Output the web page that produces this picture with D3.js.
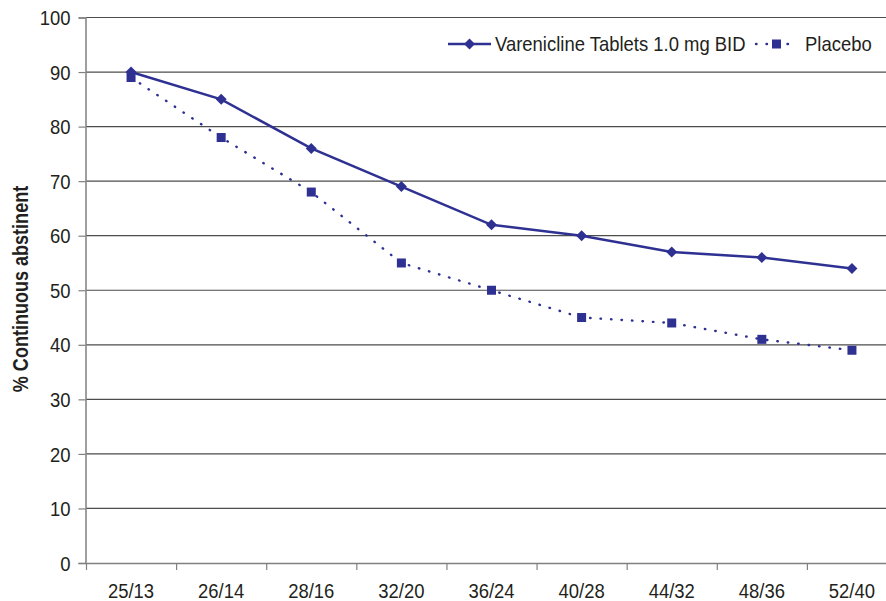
<!DOCTYPE html>
<html>
<head>
<meta charset="utf-8">
<script src="https://cdn.jsdelivr.net/npm/d3@7"></script>
<style>
  body { margin: 0; background: #fff; }
  svg text { font-family: "Liberation Sans", Arial, sans-serif; fill: #231f20; }
</style>
</head>
<body>
<div id="chart"></div>
<script>
// weeks of treatment / weeks of follow-up
var categories = ['25/13', '26/14', '28/16', '32/20', '36/24', '40/28', '44/32', '48/36', '52/40'];
var vareniclineValues = [90, 85, 76, 69, 62, 60, 57, 56, 54];
var placeboValues = [89, 78, 68, 55, 50, 45, 44, 41, 39];
var yTicks = [0, 10, 20, 30, 40, 50, 60, 70, 80, 90, 100];

var width = 886, height = 601;
var navy = '#2e3192';
var squeeze = 0.9; // the original uses a condensed face

var svg = d3.select('#chart').append('svg')
    .attr('width', width)
    .attr('height', height);

var x = d3.scaleBand().domain(categories).range([86, 897]);
var y = d3.scaleLinear().domain([0, 100]).range([563, 17.5]);

// grid lines
svg.append('g')
  .selectAll('line')
  .data(yTicks.slice(1))
  .enter().append('line')
    .attr('x1', 86).attr('x2', width)
    .attr('y1', function(d) { return y(d); })
    .attr('y2', function(d) { return y(d); })
    .attr('stroke', '#4d4d4d')
    .attr('stroke-width', 1.2);

// y axis
var yAxis = svg.append('g')
    .attr('transform', 'translate(85.5,0)')
    .call(d3.axisLeft(y).tickValues(yTicks).tickSize(7));
yAxis.select('.domain').attr('stroke', '#808080').attr('stroke-width', 1.5);
yAxis.selectAll('.tick line').attr('stroke', '#808080').attr('stroke-width', 1.2);
yAxis.selectAll('.tick text')
    .attr('font-size', 20.5)
    .attr('x', -15 / squeeze)
    .attr('dy', '0.35em')
    .attr('transform', 'scale(' + squeeze + ',1)');

// x axis
var xAxis = svg.append('g')
    .attr('transform', 'translate(0,563.5)')
    .call(d3.axisBottom(x).tickSize(0).tickPadding(20));
xAxis.select('.domain').attr('d', 'M86,0H' + width).attr('stroke', '#808080').attr('stroke-width', 1.5);
xAxis.selectAll('.tick text')
    .attr('font-size', 20.5)
    .attr('transform', 'scale(' + squeeze + ',1)');
xAxis.selectAll('.tick line').remove();

// band edge ticks
svg.append('g')
  .selectAll('line')
  .data(categories)
  .enter().append('line')
    .attr('x1', function(d) { return x(d) + 0.5; })
    .attr('x2', function(d) { return x(d) + 0.5; })
    .attr('y1', 563).attr('y2', 570)
    .attr('stroke', '#808080')
    .attr('stroke-width', 1.2);

// y label
svg.append('text')
    .attr('transform', 'translate(28,289) rotate(-90) scale(0.82,1)')
    .attr('text-anchor', 'middle')
    .attr('font-size', 22)
    .attr('font-weight', 'bold')
    .text('% Continuous abstinent');

var cx = function(d, i) { return x(categories[i]) + x.bandwidth() / 2; };

var line = d3.line()
    .x(function(d, i) { return cx(d, i); })
    .y(function(d) { return y(d); });

var diamondPath = 'M0,-5.5L5.5,0L0,5.5L-5.5,0Z';

// placebo (dotted)
svg.append('path')
    .datum(placeboValues)
    .attr('d', line)
    .attr('fill', 'none')
    .attr('stroke', navy)
    .attr('stroke-width', 2.4)
    .attr('stroke-linecap', 'round')
    .attr('stroke-dasharray', '0.5,10');

svg.append('g')
  .selectAll('rect')
  .data(placeboValues)
  .enter().append('rect')
    .attr('x', function(d, i) { return cx(d, i) - 4.5; })
    .attr('y', function(d) { return y(d) - 4.5; })
    .attr('width', 9).attr('height', 9)
    .attr('fill', navy);

// varenicline (solid)
svg.append('path')
    .datum(vareniclineValues)
    .attr('d', line)
    .attr('fill', 'none')
    .attr('stroke', navy)
    .attr('stroke-width', 2.5);

svg.append('g')
  .selectAll('path')
  .data(vareniclineValues)
  .enter().append('path')
    .attr('d', diamondPath)
    .attr('transform', function(d, i) { return 'translate(' + cx(d, i) + ',' + y(d) + ')'; })
    .attr('fill', navy);

// legend
var legend = svg.append('g').attr('transform', 'translate(0,44)');
legend.append('line')
    .attr('x1', 448).attr('x2', 491)
    .attr('stroke', navy).attr('stroke-width', 2.5);
legend.append('path')
    .attr('d', diamondPath)
    .attr('transform', 'translate(469.5,0)')
    .attr('fill', navy);
legend.append('text')
    .attr('transform', 'translate(495,0) scale(' + squeeze + ',1)')
    .attr('dy', '0.35em')
    .attr('font-size', 20.5)
    .text('Varenicline Tablets 1.0 mg BID');
legend.append('line')
    .attr('x1', 756).attr('x2', 797)
    .attr('stroke', navy).attr('stroke-width', 2.4)
    .attr('stroke-linecap', 'round')
    .attr('stroke-dasharray', '0.5,10');
legend.append('rect')
    .attr('x', 772).attr('y', -4.5)
    .attr('width', 9).attr('height', 9)
    .attr('fill', navy);
legend.append('text')
    .attr('transform', 'translate(805,0) scale(' + squeeze + ',1)')
    .attr('dy', '0.35em')
    .attr('font-size', 20.5)
    .text('Placebo');
</script>
</body>
</html>
